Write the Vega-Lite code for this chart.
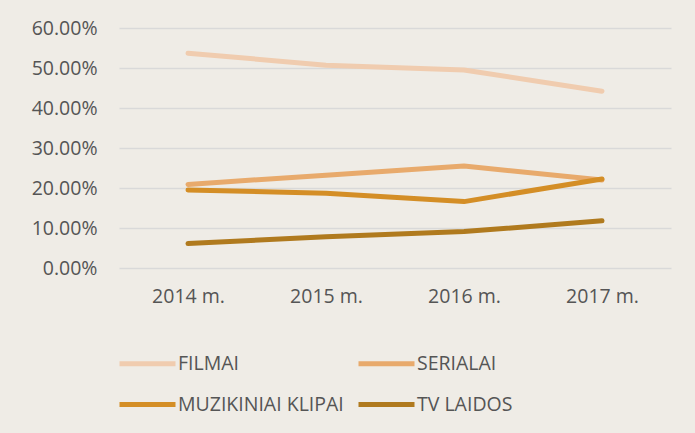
{
  "$schema": "https://vega.github.io/schema/vega-lite/v6.json",
  "width": 552,
  "height": 240,
  "autosize": {"type": "none"},
  "padding": {"left": 119, "top": 28, "right": 24, "bottom": 165},
  "background": "#EFECE6",
  "config": {
    "view": {"stroke": null},
    "font": "Open Sans"
  },
  "data": {
    "values": [
      {"year": "2014 m.", "series": "FILMAI", "value": 0.537},
      {"year": "2015 m.", "series": "FILMAI", "value": 0.507},
      {"year": "2016 m.", "series": "FILMAI", "value": 0.495},
      {"year": "2017 m.", "series": "FILMAI", "value": 0.442},
      {"year": "2014 m.", "series": "SERIALAI", "value": 0.209},
      {"year": "2015 m.", "series": "SERIALAI", "value": 0.232},
      {"year": "2016 m.", "series": "SERIALAI", "value": 0.255},
      {"year": "2017 m.", "series": "SERIALAI", "value": 0.22},
      {"year": "2014 m.", "series": "MUZIKINIAI KLIPAI", "value": 0.195},
      {"year": "2015 m.", "series": "MUZIKINIAI KLIPAI", "value": 0.187},
      {"year": "2016 m.", "series": "MUZIKINIAI KLIPAI", "value": 0.166},
      {"year": "2017 m.", "series": "MUZIKINIAI KLIPAI", "value": 0.2225},
      {"year": "2014 m.", "series": "TV LAIDOS", "value": 0.061},
      {"year": "2015 m.", "series": "TV LAIDOS", "value": 0.078},
      {"year": "2016 m.", "series": "TV LAIDOS", "value": 0.091},
      {"year": "2017 m.", "series": "TV LAIDOS", "value": 0.118}
    ]
  },
  "mark": {"type": "line", "strokeWidth": 5, "strokeCap": "round", "strokeJoin": "round"},
  "encoding": {
    "x": {
      "field": "year", "type": "ordinal",
      "scale": {"type": "point", "padding": 0.5},
      "axis": {"title": null, "labelAngle": 0, "domain": false, "ticks": false, "grid": false, "labelPadding": 19, "labelFontSize": 19.5, "labelColor": "#555555", "labelFont": "Open Sans"}
    },
    "y": {
      "field": "value", "type": "quantitative",
      "scale": {"domain": [0, 0.6]},
      "axis": {"title": null, "format": ".2%", "values": [0, 0.1, 0.2, 0.3, 0.4, 0.5, 0.6], "labelOverlap": false, "domain": false, "ticks": false, "gridColor": "#D9D9D9", "gridWidth": 1.3, "labelPadding": 22, "labelFontSize": 19.5, "labelColor": "#555555", "labelFont": "Open Sans"}
    },
    "color": {
      "field": "series", "type": "nominal",
      "sort": ["FILMAI", "SERIALAI", "MUZIKINIAI KLIPAI", "TV LAIDOS"],
      "scale": {"domain": ["FILMAI", "SERIALAI", "MUZIKINIAI KLIPAI", "TV LAIDOS"], "range": ["#F0CCAF", "#E8AA6C", "#D48E26", "#B07A1E"]},
      "legend": {
        "title": null, "orient": "none", "legendX": -2, "legendY": 305, "direction": "horizontal",
        "columns": 2, "symbolType": "stroke", "symbolSize": 3136, "symbolStrokeWidth": 5,
        "labelOffset": 0, "columnPadding": 4, "rowPadding": -12, "gridAlign": "each", "labelLimit": 300,
        "labelFontSize": 19.5, "labelColor": "#555555", "labelFont": "Open Sans"
      }
    }
  }
}
